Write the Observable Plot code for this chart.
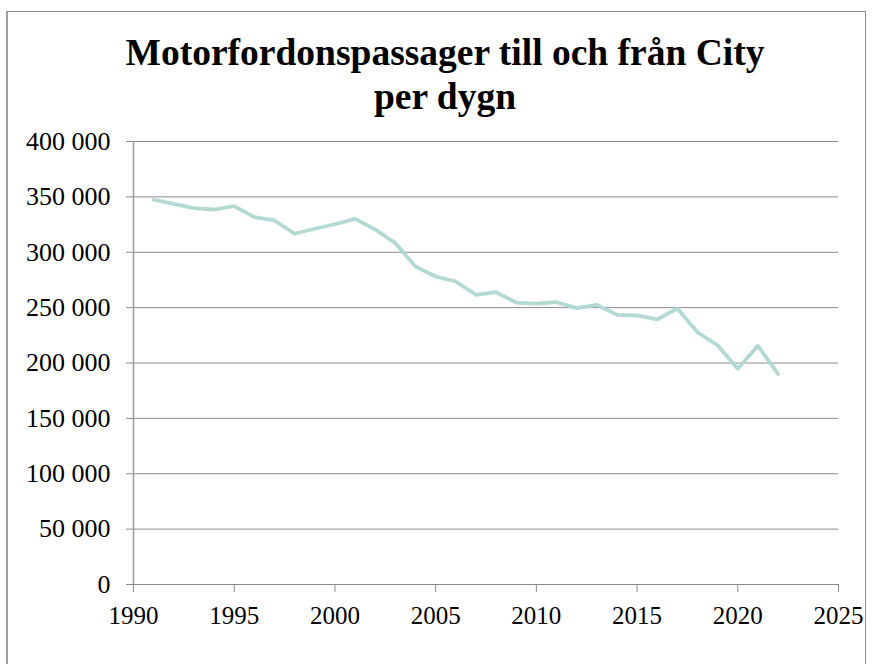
<!DOCTYPE html>
<html>
<head>
<meta charset="utf-8">
<script src="https://cdn.jsdelivr.net/npm/d3@7"></script>
<script src="https://cdn.jsdelivr.net/npm/@observablehq/plot@0.6"></script>
<style>
  html, body { margin: 0; padding: 0; background: #fff; }
  #wrap { position: relative; width: 873px; height: 664px; overflow: hidden; font-family: "Liberation Serif", "Times New Roman", serif; }
  #frame { position: absolute; left: 6px; top: 11px; width: 860px; height: 700px; border-top: 1px solid #8c8c8c; border-left: 2px solid #a0a0a0; border-right: 1px solid #8c8c8c; box-sizing: border-box; }
  #title { position: absolute; left: 0; top: 31px; width: 890px; text-align: center; font-weight: bold; font-size: 37.5px; line-height: 44px; color: #000; white-space: nowrap; }
  #chart { position: absolute; left: 0; top: 0; }
</style>
</head>
<body>
<div id="wrap">
  <div id="frame"></div>
  <div id="chart"></div>
  <div id="title">Motorfordonspassager till och från City<br>per dygn</div>
</div>
<script>
const years = [1991,1992,1993,1994,1995,1996,1997,1998,1999,2000,2001,2002,2003,2004,2005,2006,2007,2008,2009,2010,2011,2012,2013,2014,2015,2016,2017,2018,2019,2020,2021,2022];
const passages = [347400,343700,339800,338600,341600,331700,328700,316700,321200,325300,330200,320500,308200,287100,278100,273600,261600,263900,254600,253700,254900,249500,252500,243500,242900,239300,249300,227800,215800,194800,215500,190200];
const yTicks = [0,50000,100000,150000,200000,250000,300000,350000,400000];
const xTicks = [1990,1995,2000,2005,2010,2015,2020,2025];

const data = years.map((y, i) => ({year: y, value: passages[i]}));
const fmt = d3.formatLocale({thousands: " ", grouping: [3]}).format(",");

const plot = Plot.plot({
  width: 873,
  height: 664,
  marginLeft: 133,
  marginRight: 35,
  marginTop: 141,
  marginBottom: 80,
  style: {fontFamily: "'Liberation Serif', 'Times New Roman', serif", background: "transparent", color: "#000"},
  x: {domain: [1990, 2025]},
  y: {domain: [0, 400000]},
  marks: [
    Plot.ruleY(yTicks, {stroke: "#8a8a8a", strokeWidth: 1}),
    Plot.ruleX([1990], {stroke: "#9a9a9a", strokeWidth: 1.5}),
    Plot.axisY({ticks: yTicks, tickFormat: fmt, tickSize: 7, tickPadding: 16, fontSize: 26, stroke: "#8a8a8a", strokeOpacity: 1, label: null}),
    Plot.axisX({ticks: xTicks, tickFormat: "d", tickSize: 8, tickPadding: 14, fontSize: 25, stroke: "#8a8a8a", strokeOpacity: 1, label: null}),
    Plot.line(data, {x: "year", y: "value", stroke: "#b4d9d3", strokeWidth: 3.8, strokeLinejoin: "round", strokeLinecap: "round"})
  ]
});
document.getElementById("chart").appendChild(plot);
</script>
</body>
</html>
